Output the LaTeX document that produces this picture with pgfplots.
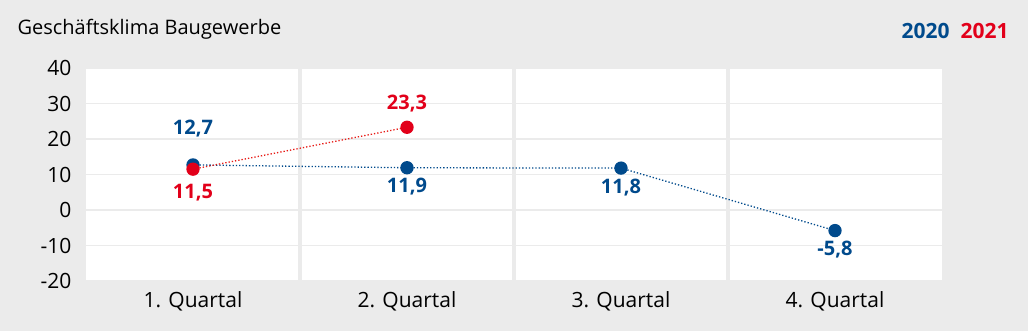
\documentclass[border=0pt]{standalone}
\usepackage{pgfplots}
\pgfplotsset{compat=1.18}
\usepackage{fontspec}
\setmainfont{Open Sans}
\definecolor{bg}{HTML}{EBEBEB}
\definecolor{cblue}{HTML}{004A8C}
\definecolor{cred}{HTML}{E2001A}
\pgfplotstableread{
x y dy
0 12.7 36
1 11.9 -19
2 11.8 -19
3 -5.8 -19
}\blue
\pgfplotstableread{
x y dy
0 11.5 -23
1 23.3 24
}\red
\begin{document}
\begin{tikzpicture}[x=1bp,y=1bp]
\fill[bg] (0,0) rectangle (1028,331);
\node[anchor=west,font=\fontsize{20bp}{24bp}\selectfont] at (14,302) {Geschäftsklima Baugewerbe};
\node[anchor=east,font=\fontsize{21bp}{24bp}\selectfont\bfseries] at (1012,300) {\textcolor{cblue}{2020}\hspace{11bp}\textcolor{cred}{2021}};
\begin{axis}[at={(86bp,50bp)}, anchor=south west, scale only axis,
  width=856bp, height=213bp,
  xmin=-0.5, xmax=3.5, ymin=-20, ymax=40, ytick={-20,-10,...,40},
  xtick={0,1,2,3}, xticklabels={1. Quartal,2. Quartal,3. Quartal,4. Quartal},
  minor xtick={0.5,1.5,2.5},
  axis line style={draw=none}, major tick length=0pt, minor tick length=0pt,
  axis background/.style={fill=white},
  ymajorgrids, major grid style={bg, line width=1.6bp},
  xminorgrids, minor grid style={bg, line width=4bp},
  tick label style={font=\fontsize{21bp}{25bp}\selectfont},
  /pgf/number format/assume math mode=true,
  yticklabel style={xshift=-11bp},
  xticklabel style={yshift=-7bp},
  clip=false,
  nodes near coords,
  visualization depends on={\thisrow{dy}\as\dy},
  every node near coord/.style={anchor=center, yshift=\dy bp, font=\fontsize{20bp}{24bp}\selectfont\bfseries,
     /pgf/number format/use comma, /pgf/number format/fixed, /pgf/number format/fixed zerofill,
     /pgf/number format/precision=1, /pgf/number format/assume math mode=true},
]
\addplot[cblue, dotted, line width=1.3bp, mark=*, mark size=6bp, mark options={solid}] table[x=x,y=y] {\blue};
\addplot[cred!80!orange, dotted, line width=1.3bp, mark=*, mark size=6bp, mark options={solid, fill=cred, draw=cred}, every node near coord/.append style={text=cred}] table[x=x,y=y] {\red};
\end{axis}
\end{tikzpicture}
\end{document}
